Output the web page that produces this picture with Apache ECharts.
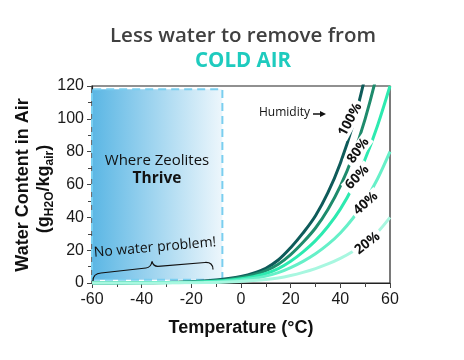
<!DOCTYPE html>
<html><head><meta charset="utf-8">
<script src="https://cdn.jsdelivr.net/npm/echarts/dist/echarts.min.js"></script>
<style>html,body{margin:0;padding:0;background:#fff}#c{width:464px;height:360px}</style>
</head><body><div id="c"></div>
<script>
// ---- data ----
const temps = [-60,-55,-50,-45,-40,-35,-30,-25,-20,-15,-10,-5,0,5,10,15,20,25,30,35,40,45,50,55,60];
const rh100 = [0.02,0.03,0.05,0.08,0.13,0.2,0.32,0.5,0.8,1.2,1.8,2.7,4,6,9,14,21.5,30.5,41,55,73,96,126,163,210];
const rh80  = [0.016,0.024,0.04,0.064,0.1,0.16,0.26,0.4,0.64,0.96,1.45,2.2,3.3,5,7.5,11.4,17.3,24.8,33.5,44.8,59,77,100,129,166];
const rh60  = [0.012,0.018,0.03,0.048,0.08,0.12,0.19,0.3,0.48,0.72,1.1,1.7,2.6,3.9,5.8,8.8,13.3,19,25.8,34.4,45,58.5,75.5,96,120];
const rh40  = [0.008,0.012,0.02,0.032,0.05,0.08,0.13,0.2,0.32,0.48,0.75,1.2,1.9,2.8,4.2,6.3,9.4,13.2,17.8,23.5,30.5,39.3,50,63.5,80];
const rh20  = [0.004,0.006,0.01,0.016,0.026,0.04,0.065,0.1,0.16,0.24,0.38,0.62,1,1.45,2.1,3.1,4.6,6.5,8.8,11.6,15,19.2,24.3,31,40];
const seriesNames = ['100%','80%','60%','40%','20%'];
const xTicks = [-60,-40,-20,0,20,40,60];
const yTicks = [0,20,40,60,80,100,120];
const zeoliteZone = [[-60,2],[-7.5,118]];

// ---- styles ----
const colors = ['#0E5B5A','#1E8B6C','#2DEAB0','#66F0C8','#A8F7E0'];
const labelAnchors = [
  {t:44.0, v:99.5, a:62},
  {t:47.2, v:80.6, a:54},
  {t:46.8, v:64.4, a:47},
  {t:50.2, v:48.5, a:42},
  {t:50.9, v:24.2, a:37}
];
const allSeries = [rh100, rh80, rh60, rh40, rh20];

const chart = echarts.init(document.getElementById('c'), null, {renderer:'canvas'});
const axisFont = 'Liberation Sans, Arial, sans-serif';

const series = allSeries.map((vals, i) => ({
  name: seriesNames[i], type:'line', smooth:0.35, showSymbol:false,
  symbol:'none', z: 3,
  lineStyle:{color:colors[i], width:3},
  data: temps.map((t, k) => [t, vals[k]])
}));
series.unshift({
  type:'line', data:[], z:1, silent:true,
  markArea:{
    silent:true,
    itemStyle:{
      color:new echarts.graphic.LinearGradient(0,0,1,0,[{offset:0,color:'#5AB6E4'},{offset:1,color:'#EEF7FC'}]),
      borderColor:'#7ACEEF', borderWidth:2, borderType:[8,5], opacity:1
    },
    data:[[{coord:zeoliteZone[0]},{coord:zeoliteZone[1]}]]
  }
});

chart.setOption({
  animation:false,
  grid:{left:92, right:74, top:86, bottom:77, show:true, borderColor:'#222', borderWidth:1.2, backgroundColor:'transparent'},
  xAxis:{type:'value', min:xTicks[0], max:xTicks[xTicks.length-1], interval:20,
    name:'Temperature (°C)', nameLocation:'middle', nameGap:36,
    nameTextStyle:{fontSize:18, fontWeight:'bold', color:'#111', fontFamily:axisFont},
    axisLine:{onZero:false, lineStyle:{color:'#222', width:1.2}},
    axisTick:{show:true, length:5, lineStyle:{color:'#444'}},
    minorTick:{show:true, splitNumber:2, length:4, lineStyle:{color:'#444'}},
    splitLine:{show:false},
    axisLabel:{fontSize:16, color:'#1a1a1a', margin:9, fontFamily:axisFont}
  },
  yAxis:{type:'value', min:yTicks[0], max:yTicks[yTicks.length-1], interval:20,
    axisLine:{show:true, onZero:false, lineStyle:{color:'#222', width:1.2}},
    axisTick:{show:true, length:5, lineStyle:{color:'#444'}},
    minorTick:{show:true, splitNumber:2, length:4, lineStyle:{color:'#444'}},
    splitLine:{show:false},
    axisLabel:{fontSize:16, color:'#1a1a1a', margin:8, fontFamily:axisFont}
  },
  series: series
});

const gfx = [];
const Z = 50;
// titles
gfx.push({type:'text', z:Z, x:243, y:36, style:{text:'Less water to remove from', font:'600 20.5px "Open Sans"', fill:'#404040', align:'center', verticalAlign:'middle'}});
gfx.push({type:'text', z:Z, x:243, y:61, style:{text:'COLD AIR', font:'bold 20.5px "Open Sans"', fill:'#1ECBBE', align:'center', verticalAlign:'middle'}});
// y axis title
gfx.push({type:'text', z:Z, x:23, y:185, rotation:Math.PI/2, style:{text:'Water Content in Air', font:'bold 18px "Liberation Sans", Arial', fill:'#111', align:'center', verticalAlign:'middle'}});
gfx.push({type:'text', z:Z, x:44, y:189, rotation:Math.PI/2, style:{
  text:'{p|(g}{s|H2O}{p|/kg}{s|air}{p|)}', align:'center', verticalAlign:'middle',
  rich:{
    p:{fontSize:18, fontWeight:'bold', fontFamily:'Liberation Sans', fill:'#111', lineHeight:24},
    s:{fontSize:12, fontWeight:'bold', fontFamily:'Liberation Sans', fill:'#111', verticalAlign:'bottom', lineHeight:14}
  }}});
// zone text
gfx.push({type:'text', z:Z, x:157, y:161, style:{text:'Where Zeolites', font:'15px "Open Sans"', fill:'#111', align:'center', verticalAlign:'middle'}});
gfx.push({type:'text', z:Z, x:157, y:179, style:{text:'Thrive', font:'bold 15.5px "Open Sans"', fill:'#111', align:'center', verticalAlign:'middle'}});
gfx.push({type:'text', z:Z, x:155, y:247.5, rotation:5*Math.PI/180, style:{text:'No water problem!', font:'14px "Open Sans"', fill:'#111', align:'center', verticalAlign:'middle'}});
// brace
const braceStyle = {stroke:'#111', lineWidth:1.2, fill:null};
gfx.push({type:'bezierCurve', z:Z, shape:{x1:93,y1:281,cpx1:93,cpy1:273.5,x2:101,y2:273}, style:braceStyle});
gfx.push({type:'line', z:Z, shape:{x1:101,y1:273,x2:146,y2:268}, style:braceStyle});
gfx.push({type:'bezierCurve', z:Z, shape:{x1:146,y1:268,cpx1:151,cpy1:267.5,x2:152,y2:261.5}, style:braceStyle});
gfx.push({type:'bezierCurve', z:Z, shape:{x1:152,y1:261.5,cpx1:153.5,cpy1:266.5,x2:158,y2:266.3}, style:braceStyle});
gfx.push({type:'line', z:Z, shape:{x1:158,y1:266.3,x2:205,y2:262.5}, style:braceStyle});
gfx.push({type:'bezierCurve', z:Z, shape:{x1:205,y1:262.5,cpx1:213,cpy1:262,x2:213,y2:269.5}, style:braceStyle});
// humidity label
gfx.push({type:'text', z:Z, x:259, y:113, style:{text:'Humidity', font:'12px "Open Sans"', fill:'#111', align:'left', verticalAlign:'middle'}});
gfx.push({type:'line', z:Z, shape:{x1:313, y1:114, x2:322, y2:114}, style:{stroke:'#111', lineWidth:1.5}});
gfx.push({type:'polygon', z:Z, shape:{points:[[326,114],[320,111],[320,117]]}, style:{fill:'#111'}});
// curve labels
labelAnchors.forEach((L, i) => {
  const p = chart.convertToPixel({gridIndex:0}, [L.t, L.v]);
  gfx.push({type:'text', z:Z, x:p[0], y:p[1], rotation:L.a*Math.PI/180,
    style:{text:seriesNames[i], font:'bold 13.5px "Open Sans"', fill:'#111', align:'center', verticalAlign:'middle',
      backgroundColor:'#fff', padding:[0,3]}});
});
chart.setOption({graphic:gfx});
</script></body></html>
